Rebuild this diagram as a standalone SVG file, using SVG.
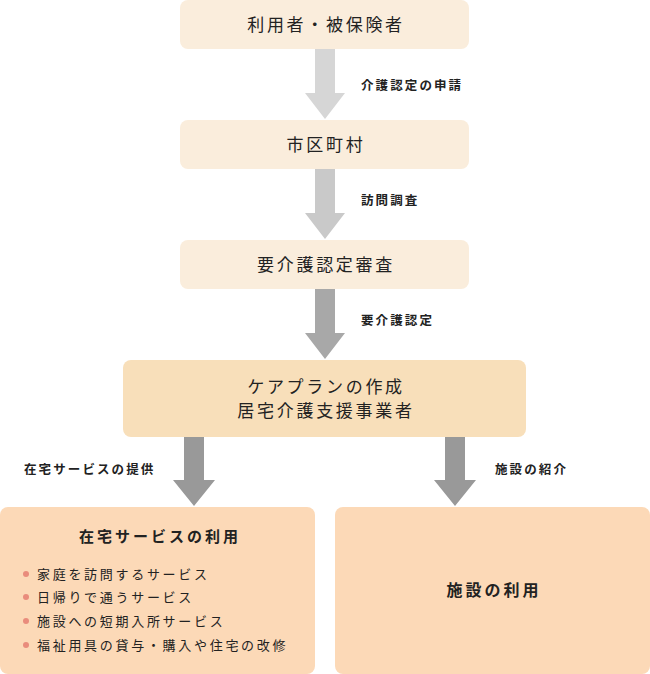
<svg xmlns="http://www.w3.org/2000/svg" width="650" height="674" viewBox="0 0 650 674">
<style>
text{font-family:"Noto Sans CJK JP","Noto Sans CJK SC",sans-serif;fill:#222;}
.box{fill:#FAEDDC;}
.plan{fill:#F8DFBA;}
.use{fill:#FCD9B7;}
.nt{font-size:17px;letter-spacing:2.7px;text-anchor:middle;}
.lbl{font-size:12.5px;font-weight:bold;letter-spacing:2.1px;}
.ttl{font-size:15px;font-weight:bold;letter-spacing:3px;text-anchor:middle;}
.li{font-size:13px;letter-spacing:2.7px;}
.dot{fill:#E98C7C;}
</style>
<rect width="650" height="674" fill="#fff"/>
<g id="connectors">
<path d="M315,49H335V93H345L325,119L305,93H315Z" fill="#D6D6D6"/>
<path d="M315,169H335V213H345L325,239L305,213H315Z" fill="#C9C9C9"/>
<path d="M315,289H335V333H345L325,359L305,333H315Z" fill="#A8A8A8"/>
<path d="M184,437H204V480H215L194,506L173,480H184Z" fill="#999"/>
<path d="M445,437H465V480H476L455,506L434,480H445Z" fill="#999"/>
<text class="lbl" x="361" y="90">介護認定の申請</text>
<text class="lbl" x="361" y="205">訪問調査</text>
<text class="lbl" x="361" y="325">要介護認定</text>
<text class="lbl" x="24" y="474">在宅サービスの提供</text>
<text class="lbl" x="495" y="474">施設の紹介</text>
</g>
<g id="user">
<rect class="box" x="180" y="0" width="289" height="49" rx="8"/>
<text class="nt" x="326" y="31">利用者・被保険者</text>
</g>
<g id="municipality">
<rect class="box" x="180" y="120" width="289" height="49" rx="8"/>
<text class="nt" x="326" y="151">市区町村</text>
</g>
<g id="review">
<rect class="box" x="180" y="240" width="289" height="49" rx="8"/>
<text class="nt" x="326" y="271">要介護認定審査</text>
</g>
<g id="careplan">
<rect class="plan" x="123" y="360" width="403" height="77" rx="8"/>
<text class="nt" x="326" y="393">ケアプランの作成</text>
<text class="nt" x="326" y="417">居宅介護支援事業者</text>
</g>
<g id="home">
<rect class="use" x="0" y="507" width="315" height="167" rx="8"/>
<text class="ttl" x="160" y="542">在宅サービスの利用</text>
<circle class="dot" cx="26" cy="574" r="3"/>
<circle class="dot" cx="26" cy="597" r="3"/>
<circle class="dot" cx="26" cy="621" r="3"/>
<circle class="dot" cx="26" cy="645" r="3"/>
<text class="li" x="37" y="579">家庭を訪問するサービス</text>
<text class="li" x="37" y="602">日帰りで通うサービス</text>
<text class="li" x="37" y="626">施設への短期入所サービス</text>
<text class="li" x="37" y="650">福祉用具の貸与・購入や住宅の改修</text>
</g>
<g id="facility">
<rect class="use" x="335" y="507" width="315" height="167" rx="8"/>
<text class="ttl" x="494" y="596" style="font-size:16px">施設の利用</text>
</g>
</svg>
